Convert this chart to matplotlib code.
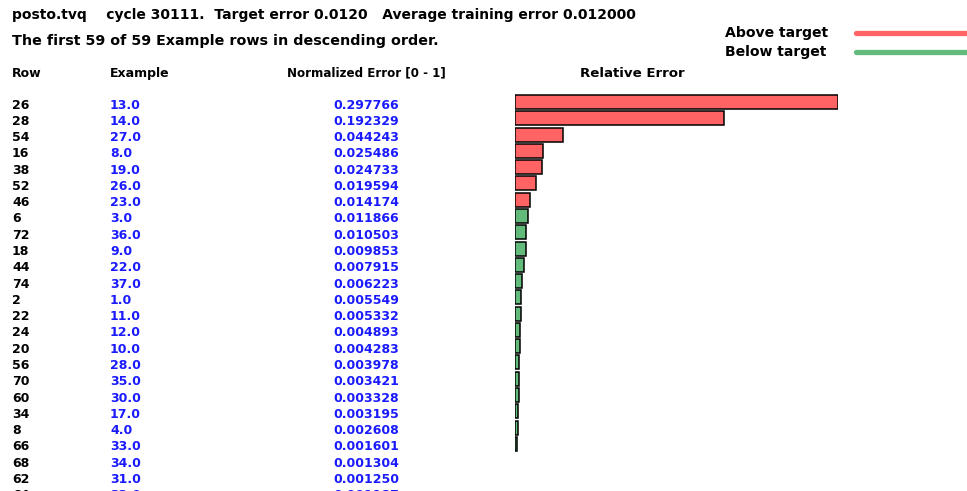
import matplotlib.pyplot as plt
import matplotlib as mpl
import numpy as np

mpl.rcParams.update({
    "font.family": ["DejaVu Sans"],
    "font.size": 9,
    "font.weight": "bold",
})

# data
file_name = "posto.tvq"
cycle = 30111
target_error = 0.0120
avg_error = 0.012000
n_rows_total = 59

rows = [26, 28, 54, 16, 38, 52, 46, 6, 72, 18, 44, 74, 2, 22, 24, 20,
        56, 70, 60, 34, 8, 66, 68, 62, 64]
examples = [13.0, 14.0, 27.0, 8.0, 19.0, 26.0, 23.0, 3.0, 36.0, 9.0, 22.0,
            37.0, 1.0, 11.0, 12.0, 10.0, 28.0, 35.0, 30.0, 17.0, 4.0, 33.0,
            34.0, 31.0, 32.0]
norm_error = [0.297766, 0.192329, 0.044243, 0.025486, 0.024733, 0.019594,
              0.014174, 0.011866, 0.010503, 0.009853, 0.007915, 0.006223,
              0.005549, 0.005332, 0.004893, 0.004283, 0.003978, 0.003421,
              0.003328, 0.003195, 0.002608, 0.001601, 0.001304, 0.001250,
              0.001187]

RED = "#ff6363"
GREEN = "#62bb7a"
BLUE = "#1a1aff"

W, H = 967, 491
ROW0, ROWH = 105, 16.28   # pixel centre of first text row, row pitch
BAR_SHIFT = -3            # bars sit a little above the text centre


def row_of(ypx, shift=0):
    return (ypx - ROW0 - shift) / ROWH


fig = plt.figure(figsize=(W / 100, H / 100), dpi=100)

# text table, full figure, y in row units
ax_t = fig.add_axes([0, 0, 1, 1])
ax_t.set_xlim(0, W)
ax_t.set_ylim(row_of(H), row_of(0))
ax_t.axis("off")

idx = np.arange(len(rows))
for i in idx:
    ax_t.text(12, i, str(rows[i]), color="black", va="center", ha="left")
    ax_t.text(110, i, f"{examples[i]:.1f}", color=BLUE, va="center", ha="left")
    ax_t.text(399, i, f"{norm_error[i]:.6f}", color=BLUE, va="center", ha="right")

# column headers
hdr = row_of(73)
ax_t.text(12, hdr, "Row", va="center", ha="left")
ax_t.text(110, hdr, "Example", va="center", ha="left")
ax_t.text(287, hdr, "Normalized Error [0 - 1]", va="center", ha="left",
          fontsize=8.6)
ax_t.text(632, hdr, "Relative Error", va="center", ha="center", fontsize=9.6)

# title lines
ax_t.text(12, row_of(15),
          f"{file_name}    cycle {cycle}.  Target error {target_error:.4f}   "
          f"Average training error {avg_error:.6f}",
          va="center", ha="left", fontsize=10)
ax_t.text(12, row_of(41),
          f"The first {n_rows_total} of {n_rows_total} Example rows in "
          "descending order.", va="center", ha="left", fontsize=10.3)

# legend
for label, col, ypx in [("Above target", RED, 33), ("Below target", GREEN, 52)]:
    yr = row_of(ypx)
    ax_t.text(725, yr, label, va="center", ha="left", fontsize=10.1)
    ax_t.plot([856, 990], [yr, yr], color=col, lw=3.8, solid_capstyle="round",
              clip_on=False)

# bars
x0, x1 = 515, 838
top = ROW0 + BAR_SHIFT - 0.5 * ROWH
bot = ROW0 + BAR_SHIFT + 21.5 * ROWH
ax_b = fig.add_axes([x0 / W, (H - bot) / H, (x1 - x0) / W, (bot - top) / H])
ax_b.set_xlim(0, max(norm_error))
ax_b.set_ylim(21.5, -0.5)
colors = [RED if e > target_error else GREEN for e in norm_error]
ax_b.barh(idx, norm_error, height=0.86, color=colors, edgecolor="black",
          linewidth=1.1)
ax_b.axis("off")

fig.savefig("out.png", dpi=100)
